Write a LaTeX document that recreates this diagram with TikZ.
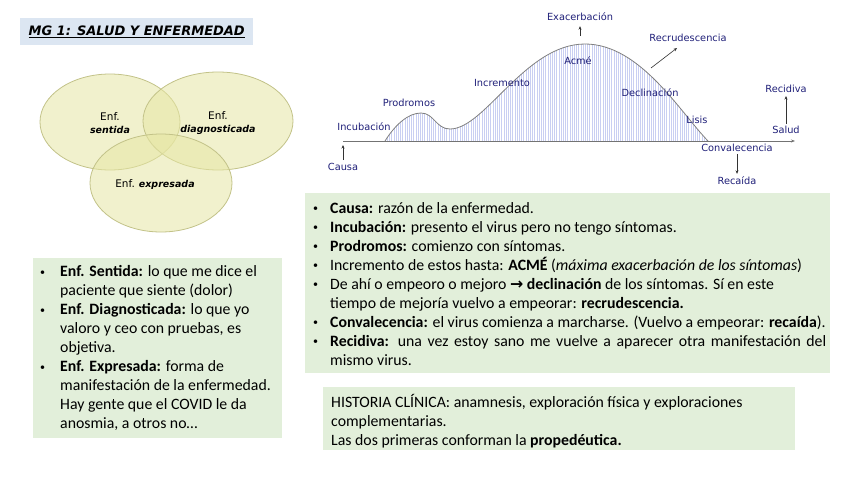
\documentclass[tikz,border=0pt]{standalone}
\usepackage{fontspec}
\setmainfont{Carlito}
\newfontfamily\comic{DejaVu Sans}
\newfontfamily\symf{DejaVu Sans}
\usetikzlibrary{arrows.meta,shapes.geometric}
\definecolor{boxgreen}{HTML}{E2EFDA}
\definecolor{titleblue}{HTML}{DCE6F2}
\definecolor{venn}{HTML}{E6E6A4}
\definecolor{vennedge}{HTML}{C2C288}
\definecolor{navy}{HTML}{1F1F78}
\definecolor{hatchc}{HTML}{C9CFF2}
\definecolor{curvegrey}{HTML}{808080}
\newcommand{\bul}{{\fontsize{10}{10}\selectfont\raisebox{1.2pt}{•}}}
\begin{document}
\begin{tikzpicture}[x=1pt,y=-1pt,
  lbl/.style={font=\comic\fontsize{9.8}{11}\selectfont, text=navy, inner sep=0pt},
  greenbox/.style={fill=boxgreen, draw=none, anchor=north west, inner sep=0pt},
  body/.style={font=\fontsize{15.8}{19}\selectfont, align=left, anchor=north west, inner sep=0pt},
  vennell/.style={ellipse, fill=venn, fill opacity=0.55, draw=vennedge, line width=0.8pt, inner sep=0pt},
  vtext/.style={font=\comic\fontsize{9.5}{12.5}\selectfont, align=center, inner sep=0pt},
  tip/.style={-{Stealth[length=3.5pt,width=3pt]}, line width=0.6pt, black!80}
]
\useasboundingbox (0,0) rectangle (848,477);

% title
\node[fill=titleblue, minimum width=233, minimum height=27, anchor=north west, inner sep=0pt,
  font=\comic\bfseries\itshape\fontsize{13}{15}\selectfont] (title) at (20,18) {\underline{MG 1: SALUD Y ENFERMEDAD}};

% venn
\node[vennell, minimum width=140, minimum height=96] (vl) at (110,122) {};
\node[vennell, minimum width=150, minimum height=98] (vr) at (218,121) {};
\node[vennell, minimum width=142, minimum height=98] (vb) at (161,183) {};
\node[vtext] (tl) at (110,123) {{\fontsize{10.5}{12.5}\selectfont Enf.}\\\textbf{\itshape sentida}};
\node[vtext] (tr) at (218,123) {{\fontsize{10.5}{12.5}\selectfont Enf.}\\\textbf{\itshape diagnosticada}};
\node[vtext] (tb) at (155,184) {{\fontsize{10.5}{12.5}\selectfont Enf.} \textbf{\itshape expresada}};

% chart
\begin{scope}
\clip (385,141) .. controls (395,125) and (408,113) .. (421,113) .. controls (434,113) and (436,129) .. (450,129) .. controls (485,129) and (525,44) .. (585,44) .. controls (640,44) and (680,112) .. (708,141) -- cycle;
\foreach \x in {385,387.2,...,710} \draw[hatchc, line width=0.4pt] (\x,40) -- (\x,141);
\end{scope}
\coordinate (axstart) at (343,141);
\coordinate (axend) at (795,141);
\draw[black!55, line width=0.7pt, -{Stealth[length=4pt,width=3pt]}] (axstart) -- (axend);
\draw[curvegrey, line width=0.8pt] (385,141) .. controls (395,125) and (408,113) .. (421,113) .. controls (434,113) and (436,129) .. (450,129) .. controls (485,129) and (525,44) .. (585,44) .. controls (640,44) and (680,112) .. (708,141);

\node[lbl] (incub) at (364,127) {Incubación};
\node[lbl] (prod) at (409,103) {Prodromos};
\node[lbl] (incr) at (502,83) {Incremento};
\node[lbl] (acme) at (578,61) {Acmé};
\node[lbl] (exac) at (580,17) {Exacerbación};
\node[lbl] (recru) at (688,38) {Recrudescencia};
\node[lbl] (decl) at (650,93) {Declinación};
\node[lbl] (lisis) at (697,120) {Lisis};
\node[lbl] (salud) at (786,130) {Salud};
\node[lbl] (recid) at (786,89) {Recidiva};
\node[lbl] (conv) at (737,148) {Convalecencia};
\node[lbl] (reca) at (737,181) {Recaída};
\node[lbl] (causa) at (343,167) {Causa};

\coordinate (exacT) at (580,36);
\draw[tip, shorten >=5pt] (exacT) -- (exac.south);
\coordinate (recrT) at (651,68);
\coordinate (recrH) at (677,48);
\draw[tip] (recrT) -- (recrH);
\draw[tip, shorten <=2pt, shorten >=3pt] (salud.north) -- (recid.south);
\draw[tip, shorten <=2pt, shorten >=3pt] (conv.south) -- (reca.north);
\draw[tip, shorten <=3pt, shorten >=4pt] (causa.north) -- (axstart);

% box 1
\node[greenbox, minimum width=249, minimum height=180] (box1) at (33,258) {};
\node[body] (t1) at (40,265) {%
\makebox[20pt][l]{\bul}\textbf{Enf. Sentida:} lo que me dice el\\
\hspace*{20pt}paciente que siente (dolor)\\
\makebox[20pt][l]{\bul}\textbf{Enf. Diagnosticada:} lo que yo\\
\hspace*{20pt}valoro y ceo con pruebas, es\\
\hspace*{20pt}objetiva.\\
\makebox[20pt][l]{\bul}\textbf{Enf. Expresada:} forma de\\
\hspace*{20pt}manifestación de la enfermedad.\\
\hspace*{20pt}Hay gente que el COVID le da\\
\hspace*{20pt}anosmia, a otros no…};

% box 2
\node[greenbox, minimum width=525, minimum height=180] (box2) at (305,193) {};
\node[body] (t2) at (313,202) {%
\makebox[17pt][l]{\bul}\textbf{Causa:} razón de la enfermedad.\\
\makebox[17pt][l]{\bul}\textbf{Incubación:} presento el virus pero no tengo síntomas.\\
\makebox[17pt][l]{\bul}\textbf{Prodromos:} comienzo con síntomas.\\
\makebox[17pt][l]{\bul}Incremento de estos hasta: \textbf{ACMÉ} (\textit{máxima exacerbación de los síntomas})\\
\makebox[17pt][l]{\bul}De ahí o empeoro o mejoro {\symf\bfseries →} \textbf{declinación} de los síntomas. Sí en este\\
\hspace*{17pt}tiempo de mejoría vuelvo a empeorar: \textbf{recrudescencia.}\\
\makebox[17pt][l]{\bul}\textbf{Convalecencia:} el virus comienza a marcharse. (Vuelvo a empeorar: \textbf{recaída}).\\
\makebox[17pt][l]{\bul}\makebox[496pt][s]{\textbf{Recidiva:} una vez estoy sano me vuelve a aparecer otra manifestación del}\\
\hspace*{17pt}mismo virus.};

% box 3
\node[greenbox, minimum width=472, minimum height=63] (box3) at (323,387) {};
\node[body] (t3) at (331,394) {%
HISTORIA CLÍNICA: anamnesis, exploración física y exploraciones\\
complementarias.\\
Las dos primeras conforman la \textbf{propedéutica.}};
\end{tikzpicture}
\end{document}
